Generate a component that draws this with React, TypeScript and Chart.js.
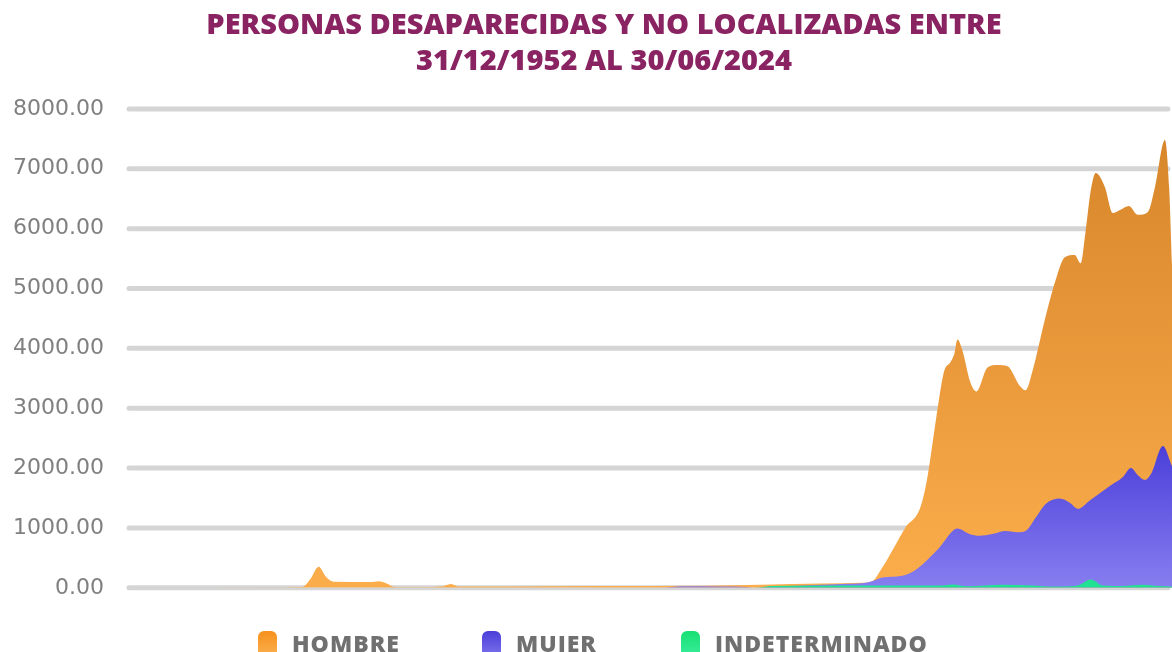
import React, { useEffect, useRef } from "react";
import { Chart, registerables } from "chart.js";

Chart.register(...registerables);

// ---- Data (x = year position, y = persons) ----
const titleLines = ["PERSONAS DESAPARECIDAS Y NO LOCALIZADAS ENTRE", "31/12/1952 AL 30/06/2024"];
const seriesNames = ["HOMBRE", "MUJER", "INDETERMINADO"];
const yTicksMax = 8000;
const yTickStep = 1000;
const xStart = 1952;
const xEnd = 2024.5;

const hombreYears = [
  1952, 1961.19, 1964.12, 1964.68, 1965.23, 1965.79, 1966.28, 1968.85, 1969.41, 1969.97,
  1970.46, 1971.64, 1973.73, 1974.43, 1974.98, 1977.91, 1984.87, 1991.84, 1996.02, 2000.19,
  2002.98, 2003.68, 2004.37, 2005.14, 2005.97, 2007.02, 2007.51, 2008.0, 2008.34, 2008.69,
  2009.11, 2009.39, 2009.6, 2009.94, 2010.5, 2010.92, 2011.69, 2012.38, 2013.08, 2013.91,
  2014.33, 2014.82, 2015.66, 2016.42, 2017.05, 2017.74, 2018.16, 2018.51, 2018.86, 2019.21,
  2019.83, 2020.39, 2020.88, 2021.51, 2022.13, 2022.83, 2023.32, 2024.01, 2024.3, 2024.5,
];
const hombreValues = [
  0, 5, 15, 150, 350, 170, 100, 95, 110, 70,
  15, 8, 20, 65, 20, 20, 28, 35, 50, 70,
  85, 110, 335, 650, 1000, 1340, 1840, 2630, 3180, 3630,
  3770, 3915, 4150, 3970, 3430, 3280, 3680, 3720, 3700, 3380,
  3300, 3630, 4470, 5140, 5520, 5560, 5420, 5975, 6640, 6930,
  6700, 6260, 6310, 6380, 6230, 6280, 6700, 7480, 6700, 5400,
];

const mujerYears = [
  1952, 1989.05, 1990.44, 1993.23, 1994.97, 1995.53, 1996.02, 1998.8, 2001.59, 2002.98,
  2003.68, 2004.37, 2005.77, 2006.81, 2008.34, 2009.6, 2010.43, 2011.13, 2012.03, 2012.94,
  2013.78, 2014.33, 2015.03, 2015.73, 2016.7, 2017.4, 2017.96, 2018.79, 2020.18, 2021.09,
  2021.65, 2022.13, 2022.62, 2023.04, 2023.87, 2024.5,
];
const mujerValues = [
  0, 0, 25, 20, 15, 0, 10, 40, 65, 75,
  110, 170, 200, 320, 670, 990, 900, 870, 900, 950,
  930, 950, 1170, 1400, 1490, 1420, 1320, 1460, 1700, 1850,
  2000, 1880, 1800, 1900, 2370, 2030,
];

const indetYears = [
  1952, 1995.53, 1996.71, 1998.8, 2003.68, 2008.55, 2009.25, 2010.29, 2012.73, 2014.82,
  2016.21, 2017.96, 2018.86, 2019.69, 2021.09, 2022.48, 2023.52, 2024.5,
];
const indetValues = [
  0, 0, 30, 35, 40, 40, 55, 25, 50, 40,
  20, 40, 140, 40, 30, 50, 30, 20,
];

const toPoints = (xs: number[], ys: number[]) => xs.map((x, i) => ({ x, y: ys[i] }));

function vGradient(chart: any, topValue: number, top: string, bottom: string, fallback: string) {
  const { ctx, chartArea, scales } = chart;
  if (!chartArea || !scales || !scales.y) return fallback;
  const y0 = scales.y.getPixelForValue(0);
  const y1 = scales.y.getPixelForValue(topValue);
  const g = ctx.createLinearGradient(0, y1, 0, y0);
  g.addColorStop(0, top);
  g.addColorStop(1, bottom);
  return g;
}

const roundedGrid = {
  id: "roundedGrid",
  beforeDatasetsDraw(chart: any) {
    const { ctx, chartArea, scales } = chart;
    const y = scales.y;
    ctx.save();
    ctx.strokeStyle = "#d5d5d5";
    ctx.lineWidth = 5;
    ctx.lineCap = "round";
    y.ticks.forEach((t: any) => {
      const py = y.getPixelForValue(t.value);
      ctx.beginPath();
      ctx.moveTo(chartArea.left + 1, py);
      ctx.lineTo(chartArea.right - 4, py);
      ctx.stroke();
    });
    ctx.restore();
  },
};

const legendColors = [
  ["#f7901c", "#fbb455"],
  ["#4a3ed8", "#8078ef"],
  ["#17df72", "#3cf0a0"],
];
const legendLeft = [250, 474, 673];

export default function App() {
  const ref = useRef<HTMLCanvasElement | null>(null);

  useEffect(() => {
    if (!ref.current) return;
    const chart = new Chart(ref.current, {
      type: "line",
      data: {
        datasets: [
          {
            label: seriesNames[0],
            data: toPoints(hombreYears, hombreValues),
            fill: "origin",
            order: 3,
            borderWidth: 0,
            pointRadius: 0,
            cubicInterpolationMode: "monotone",
            borderColor: "rgba(0,0,0,0)",
            backgroundColor: (c: any) => vGradient(c.chart, 7500, "#d8862b", "#fbad4b", "#f0a040"),
          },
          {
            label: seriesNames[1],
            data: toPoints(mujerYears, mujerValues),
            fill: "origin",
            order: 2,
            borderWidth: 0,
            pointRadius: 0,
            cubicInterpolationMode: "monotone",
            borderColor: "rgba(0,0,0,0)",
            backgroundColor: (c: any) => vGradient(c.chart, 2400, "#4a3ed8", "#877ef0", "#6a60e6"),
          },
          {
            label: seriesNames[2],
            data: toPoints(indetYears, indetValues),
            fill: "origin",
            order: 1,
            borderWidth: 0,
            pointRadius: 0,
            cubicInterpolationMode: "monotone",
            borderColor: "rgba(0,0,0,0)",
            backgroundColor: "#20e292",
          },
        ],
      },
      options: {
        responsive: false,
        animation: false,
        layout: { padding: { top: 0, left: 0, right: 0, bottom: 21 } },
        plugins: {
          legend: { display: false },
          tooltip: { enabled: false },
          title: {
            display: true,
            text: titleLines,
            color: "#8a2361",
            font: { family: "'Open Sans', sans-serif", size: 29, weight: "800", lineHeight: 1.24 },
            padding: { top: 0, bottom: 29 },
          },
        },
        scales: {
          x: { type: "linear", min: xStart, max: xEnd, display: false },
          y: {
            min: 0,
            max: yTicksMax,
            afterFit: (s: any) => {
              s.width = 120;
            },
            ticks: {
              stepSize: yTickStep,
              padding: 24,
              color: "#808080",
              font: { family: "'DejaVu Sans', sans-serif", size: 22, weight: "normal" },
              callback: (v: any) => Number(v).toFixed(2),
            },
            grid: { display: false, drawTicks: false },
            border: { display: false },
          },
          yRight: {
            position: "right",
            display: true,
            min: 0,
            max: yTicksMax,
            afterFit: (s: any) => {
              s.width = 28;
            },
            ticks: { display: false },
            grid: { display: false, drawTicks: false },
            border: { display: false },
          },
        },
      },
      plugins: [roundedGrid],
    });
    return () => chart.destroy();
  }, []);

  return (
    <div style={{ position: "fixed", left: 8, top: 8, width: 1164, height: 644, overflow: "hidden" }}>
      <canvas ref={ref} width={1192} height={617} style={{ display: "block" }} />
      {seriesNames.map((name, i) => (
        <div
          key={name}
          style={{
            position: "absolute",
            left: legendLeft[i],
            top: 624,
            display: "flex",
            alignItems: "flex-start",
          }}
        >
          <div
            style={{
              width: 19,
              height: 28,
              borderRadius: 6,
              background: `linear-gradient(180deg, ${legendColors[i][0]}, ${legendColors[i][1]})`,
              marginRight: 15,
              marginTop: -1,
            }}
          />
          <div
            style={{
              fontFamily: "'Open Sans', sans-serif",
              fontWeight: 800,
              fontSize: 23,
              lineHeight: "22px",
              color: "#707070",
              letterSpacing: 1,
            }}
          >
            {name}
          </div>
        </div>
      ))}
    </div>
  );
}
